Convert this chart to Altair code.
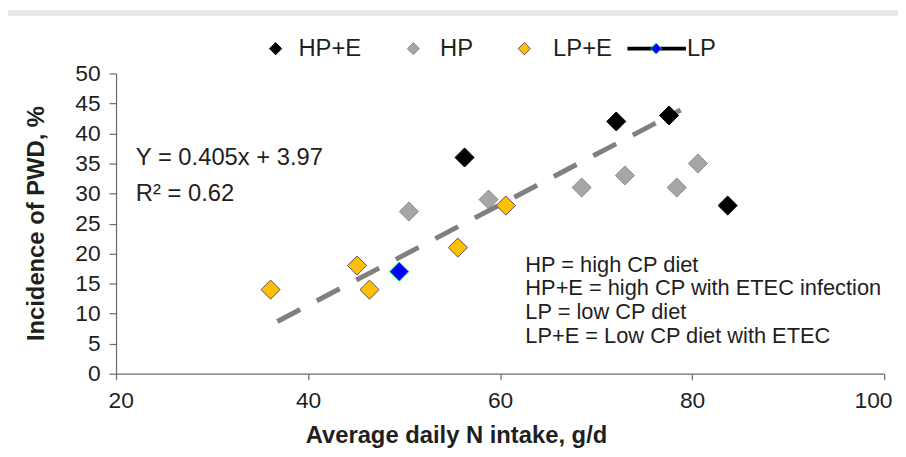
import altair as alt
import pandas as pd

# ---- data ----
series = ["HP+E", "HP", "LP+E", "LP"]
hpe_x = [56.3, 72.1, 77.6, 83.7]
hpe_y = [36, 42, 43, 28]
hp_x = [50.5, 58.8, 68.5, 73.0, 78.4, 80.6]
hp_y = [27, 29, 31, 33, 31, 35]
lpe_x = [36.1, 45.1, 46.4, 55.6, 60.6]
lpe_y = [14, 18, 14, 21, 28]
lp_x = [49.5]
lp_y = [17]
trend_x = [36.8, 78.8]
trend_y = [8.7, 43.9]
x_ticks = [20, 40, 60, 80, 100]
y_ticks = list(range(0, 51, 5))
equation = "Y = 0.405x + 3.97"
r2 = "R² = 0.62"
notes = ["HP = high CP diet", "HP+E = high CP with ETEC infection",
         "LP = low CP diet", "LP+E = Low CP diet with ETEC"]

FONT = "Liberation Sans"
TXT = "#1f1f1f"
LEFT = 109

X = alt.X("x:Q", scale=alt.Scale(domain=[20, 100], nice=False, zero=False),
          axis=alt.Axis(values=x_ticks, title="Average daily N intake, g/d", grid=False,
                        tickSize=6, labelPadding=10, labelFontSize=23,
                        labelFlush=True, labelFlushOffset=8,
                        titleFontSize=24, titleFontWeight="bold", titleX=343, titleY=62,
                        titleBaseline="middle", titleAlign="center", format="d"))
Y = alt.Y("y:Q", scale=alt.Scale(domain=[0, 50], nice=False, zero=False),
          axis=alt.Axis(values=y_ticks, title="Incidence of PWD, %", grid=False,
                        tickSize=7, labelPadding=9, labelFontSize=23,
                        titleFontSize=24, titleFontWeight="bold", titleX=-80, titleY=151,
                        titleAngle=-90, titleBaseline="middle", titleAlign="center", format="d"))

one = pd.DataFrame({"a": [0]})


def pts(xs, ys, name, fill, stroke, size=370):
    df = pd.DataFrame({"x": xs, "y": ys, "series": name})
    return alt.Chart(df).mark_point(shape="diamond", filled=True, fill=fill, stroke=stroke,
                                    strokeWidth=1, size=size, opacity=1).encode(x=X, y=Y)


trend_df = pd.DataFrame({"x": trend_x, "y": trend_y})
trend = alt.Chart(trend_df).mark_line(color="#808080", strokeWidth=5,
                                      strokeDash=[26, 19], strokeCap="butt").encode(x=X, y=Y)

band = alt.Chart(one).mark_rect(color="#e9e8e6").encode(
    x=alt.value(-LEFT), x2=alt.value(800), y=alt.value(-64), y2=alt.value(-58))

eq = alt.Chart(one).mark_text(text=equation, font=FONT, fontSize=24, align="left",
                              baseline="middle", color=TXT).encode(x=alt.value(20), y=alt.value(85))
rr = alt.Chart(one).mark_text(text=r2, font=FONT, fontSize=24, align="left",
                              baseline="middle", color=TXT).encode(x=alt.value(20), y=alt.value(122))
note_layers = []
for i, line in enumerate(notes):
    note_layers.append(
        alt.Chart(one).mark_text(text=line, font=FONT, fontSize=22, align="left",
                                 baseline="middle", color=TXT)
        .encode(x=alt.value(413), y=alt.value(193 + 24 * i)))

# ---- legend (manual, top) ----
leg_y = -25
leg = []
leg_sym = [(161, "#000000", "#000000"), (300, "#a6a6a6", "#8c8c8c"), (412, "#ffc000", "#5b4a6e")]
leg_txt_x = [184, 327, 441, 576]
for (sx, f, s), name, tx in zip(leg_sym, series[:3], leg_txt_x[:3]):
    leg.append(alt.Chart(one).mark_point(shape="diamond", filled=True, fill=f, stroke=s,
                                         strokeWidth=1, size=150, opacity=1)
               .encode(x=alt.value(sx), y=alt.value(leg_y)))
    leg.append(alt.Chart(one).mark_text(text=name, font=FONT, fontSize=24, align="left",
                                        baseline="middle", color=TXT)
               .encode(x=alt.value(tx), y=alt.value(leg_y)))
leg.append(alt.Chart(one).mark_rule(color="#000000", strokeWidth=4).encode(
    x=alt.value(516), x2=alt.value(575), y=alt.value(leg_y)))
leg.append(alt.Chart(one).mark_point(shape="diamond", filled=True, fill="#0000ff", stroke="#00dd66",
                                     strokeWidth=1, size=120, opacity=1)
           .encode(x=alt.value(545), y=alt.value(leg_y)))
leg.append(alt.Chart(one).mark_text(text=series[3], font=FONT, fontSize=24, align="left",
                                    baseline="middle", color=TXT)
           .encode(x=alt.value(leg_txt_x[3]), y=alt.value(leg_y)))

chart = alt.layer(
    band,
    pts(hp_x, hp_y, "HP", "#a6a6a6", "#8c8c8c"),
    trend,
    pts(hpe_x, hpe_y, "HP+E", "#000000", "#000000"),
    pts(lpe_x, lpe_y, "LP+E", "#ffc000", "#5b4a6e"),
    pts(lp_x, lp_y, "LP", "#0000ff", "#00dd66"),
    eq, rr, *note_layers, *leg,
).properties(
    width=775, height=303,
    padding={"left": LEFT, "top": 64, "right": 898 - LEFT - 775, "bottom": 78},
    autosize=alt.AutoSizeParams(type="none"),
    background="white",
).configure_view(stroke=None).configure_axis(
    domainColor="#6b6b6b", tickColor="#6b6b6b", labelColor=TXT, titleColor=TXT,
    labelFont=FONT, titleFont=FONT, domainWidth=1.2, tickWidth=1.2,
)

chart.save("out.html", embed_options={"renderer": "svg", "actions": False})
